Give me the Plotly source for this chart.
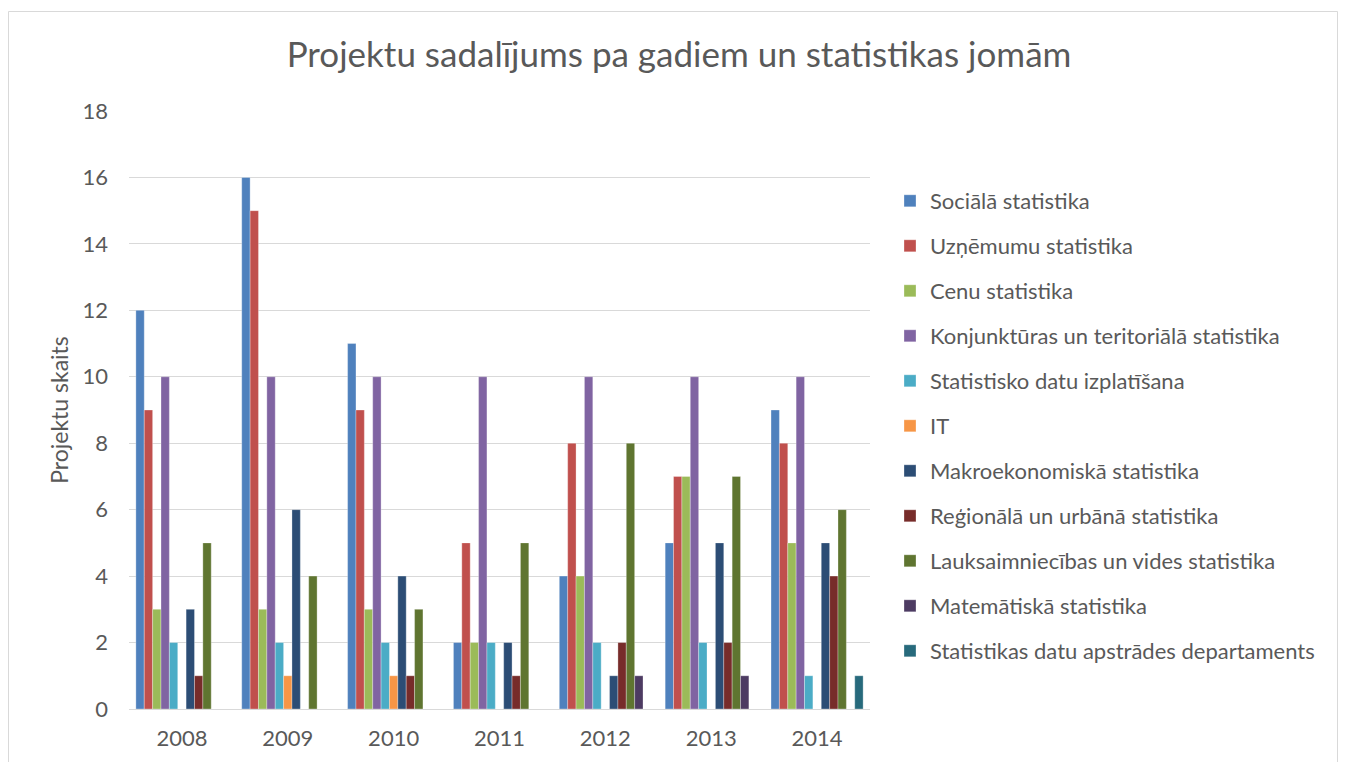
import plotly.graph_objects as go

years = ["2008", "2009", "2010", "2011", "2012", "2013", "2014"]
series_names = [
    "Sociālā statistika",
    "Uzņēmumu statistika",
    "Cenu statistika",
    "Konjunktūras un teritoriālā statistika",
    "Statistisko datu izplatīšana",
    "IT",
    "Makroekonomiskā statistika",
    "Reģionālā un urbānā statistika",
    "Lauksaimniecības un vides statistika",
    "Matemātiskā statistika",
    "Statistikas datu apstrādes departaments",
]
sociala = [12, 16, 11, 2, 4, 5, 9]
uznemumu = [9, 15, 9, 5, 8, 7, 8]
cenu = [3, 3, 3, 2, 4, 7, 5]
konjunkturas = [10, 10, 10, 10, 10, 10, 10]
izplatisana = [2, 2, 2, 2, 2, 2, 1]
it = [0, 1, 1, 0, 0, 0, 0]
makro = [3, 6, 4, 2, 1, 5, 5]
regionala = [1, 0, 1, 1, 2, 2, 4]
lauksaimniecibas = [5, 4, 3, 5, 8, 7, 6]
matematiska = [0, 0, 0, 0, 1, 1, 0]
apstrades = [0, 0, 0, 0, 0, 0, 1]
values = [sociala, uznemumu, cenu, konjunkturas, izplatisana, it, makro,
          regionala, lauksaimniecibas, matematiska, apstrades]
colors = ["#4F81BD", "#C0504D", "#9BBB59", "#8064A2", "#4BACC6", "#F79646",
          "#2C4D75", "#772C2A", "#5F7530", "#4D3B62", "#276A7C"]

FONT = "Lato"
TXT = "#595959"

fig = go.Figure()
for name, vals, col in zip(series_names, values, colors):
    fig.add_trace(go.Bar(
        x=years, y=vals, name=name, legendgroup=name,
        marker=dict(color=col, line=dict(color="rgba(255,255,255,0.6)", width=0.5)),
    ))

# page body margin is 8px, so figure coords = screen coords - 8
L, R, T, B = 121, 862, 103, 701
W, H = 1346, 762
pw, ph = R - L, B - T

def px(x):
    return (x - L) / pw

def py(y):
    return (B - y) / ph

fig.update_layout(
    width=W, height=H,
    margin=dict(l=L, r=W - R, t=T, b=H - B, autoexpand=False),
    paper_bgcolor="white", plot_bgcolor="white",
    barmode="group", bargap=0.13, bargroupgap=0,
    font=dict(family=FONT, color=TXT, size=22),
    title=dict(text="Projektu sadalījums pa gadiem un statistikas jomām",
               x=671 / W, xanchor="center", y=1 - 47 / H, yanchor="middle",
               font=dict(size=35, color=TXT, family=FONT)),
    showlegend=True,
    legend=dict(x=px(882), xanchor="left", y=py(172), yanchor="top",
                font=dict(size=22, color=TXT, family=FONT),
                tracegroupgap=13.4, itemwidth=30, bgcolor="rgba(0,0,0,0)"),
    xaxis=dict(showgrid=False, showline=True, linecolor="#D9D9D9", linewidth=1,
               ticks="", tickfont=dict(size=22, color=TXT), ticklabelstandoff=10),
    yaxis=dict(range=[0, 18], dtick=2, showgrid=True, gridcolor="#D9D9D9",
               gridwidth=1, zeroline=False, showline=False, ticks="",
               tickfont=dict(size=22, color=TXT), ticklabelstandoff=20,
               title=dict(text="Projektu skaits", font=dict(size=23, color=TXT),
                          standoff=7)),
    shapes=[dict(type="rect", xref="paper", yref="paper",
                 x0=px(0.5), x1=px(1329.5), y0=py(780), y1=py(3.5),
                 line=dict(color="#D9D9D9", width=1), fillcolor="rgba(0,0,0,0)",
                 layer="below")],
)

fig.write_html("out.html")
